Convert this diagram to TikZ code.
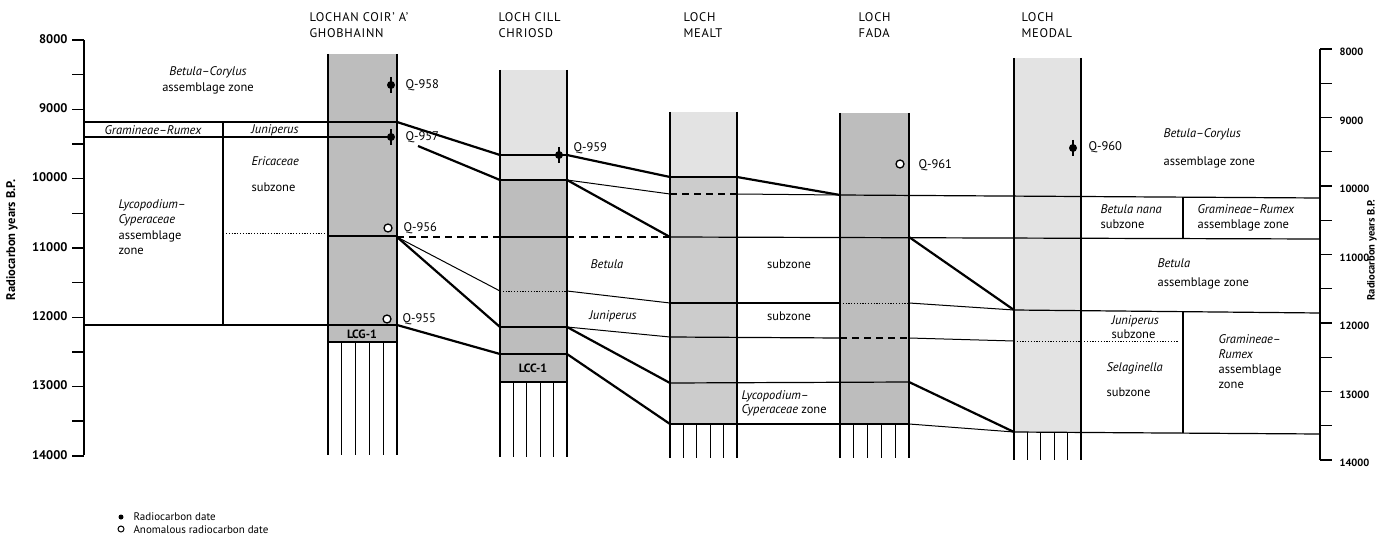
\documentclass[tikz,border=0pt]{standalone}
\usepackage{fontspec}
\setmainfont{PT Sans}
\usetikzlibrary{positioning}
\definecolor{coreDark}{gray}{0.74}
\definecolor{coreMid}{gray}{0.80}
\definecolor{coreLight}{gray}{0.89}
\tikzset{
  % pixel-like units, y running downwards
  every picture/.append style = {line width=1.1pt},
  axisline/.style  = {line width=1.4pt, black},
  zline/.style     = {line width=1.2pt},
  corr/.style      = {line width=2.2pt},
  corrthin/.style  = {line width=1.0pt},
  dashline/.style  = {line width=2pt, dash pattern=on 7pt off 5pt},
  dotline/.style   = {line width=0.9pt, dash pattern=on 1.2pt off 1.6pt},
  colside/.style   = {line width=1.5pt},
  hatchline/.style = {line width=1.2pt},
  datedot/.style   = {circle, fill=black, inner sep=0pt, minimum size=8pt},
  anomdot/.style   = {circle, draw=black, line width=1.3pt, fill=white, inner sep=0pt, minimum size=8pt},
  lbl/.style       = {font=\fontsize{12.5}{13}\selectfont\itshape, inner sep=0pt},
  slbl/.style      = {font=\fontsize{12.5}{13}\selectfont, inner sep=0pt},
  qlbl/.style      = {font=\fontsize{12.5}{13}\selectfont, anchor=west, inner sep=0pt},
  ttl/.style       = {font=\fontsize{12.5}{16.5}\selectfont\addfontfeatures{LetterSpace=6},
                      anchor=north west, align=left, inner sep=0pt},
  ticklbl/.style   = {font=\fontsize{12.5}{13}\selectfont\bfseries, inner sep=0pt},
  rticklbl/.style  = {font=\fontsize{10.5}{11}\selectfont\bfseries, inner sep=0pt},
}
% core column: sides and lower hatching
\newcommand{\corecol}[5]{%
  \draw[colside] (#1,#3) -- (#1,#5) (#2,#3) -- (#2,#5);
  \foreach \i in {1,...,4}
    \draw[hatchline] ({#1+\i*(#2-#1)/5},#4) -- ({#1+\i*(#2-#1)/5},#5);
}
\newcommand{\datemark}[2]{%
  \node[datedot] (#1) at (#2) {};
  \draw[line width=1.5pt] ([yshift=8pt]#1.center) -- ([yshift=-8pt]#1.center);
}

\begin{document}
\begin{tikzpicture}[x=1pt, y=-1pt]
  \useasboundingbox (0,0) rectangle (1380,540);
  % core fills
  \fill[coreDark]  (328,54) rectangle (397,342);
  \fill[coreLight] (500,70) rectangle (567,180);
  \fill[coreDark]  (500,180) rectangle (567,382);
  \fill[coreLight] (670,112) rectangle (737,177);
  \fill[coreMid]   (670,177) rectangle (737,424);
  \fill[coreDark]  (840,113) rectangle (909,424);
  \fill[coreLight] (1014,58) rectangle (1081,432);

  % left scale
  \draw[axisline] (84,40) -- (84,455);
  \foreach \k in {0,...,12}
    \draw[axisline] (72,{40+\k*34.65}) -- (84,{40+\k*34.65});
  \foreach \v [count=\i from 0] in {8000,9000,...,14000}
    \node[ticklbl, anchor=east] (yl\i) at (68,{39+\i*69.3}) {\v};
  \node[ticklbl] [rotate=90] (ylab) at (12,240) {Radiocarbon years B.P.};

  % right scale
  \draw[axisline] (1320,49) -- (1320,460);
  \foreach \k in {0,...,12}
    \draw[axisline] (1320,{49+\k*34.25}) -- (1332,{49+\k*34.25});
  \foreach \v [count=\i from 0] in {8000,9000,...,14000}
    \node[rticklbl, anchor=west] (yr\i) at (1339,{52+\i*68.5}) {\v};
  \node[rticklbl] [rotate=90] (ylabR) at (1372,250) {Radiocarbon years B.P.};

  % left zone scheme
  \draw[zline] (84,122) -- (397,122);
  \draw[zline] (84,137) -- (391,137);
  \draw[zline] (84,325) -- (397,325);
  \draw[zline] (223,122) -- (223,325);
  \draw[dotline] (226,233) -- (328,233);
  \draw[zline] (328,236) -- (397,236);
  \draw[zline] (328,342) -- (397,342);

  % columns
  \corecol{328}{397}{54}{342}{455}
  \corecol{500}{567}{70}{382}{457}
  \corecol{670}{737}{112}{424}{458}
  \corecol{840}{909}{113}{424}{458}
  \corecol{1014}{1081}{58}{432}{460}

  % levels inside the cores
  \foreach \y in {155,180,237,327,354,382}
    \draw[zline] (500,\y) -- (567,\y);
  \draw[dotline] (500,291) -- (567,291);
  \draw[zline] (670,177) -- (737,177);
  \draw[dashline, line width=1.2pt] (670,194) -- (737,194);
  \draw[zline] (670,237) -- (1320,239);
  \draw[zline] (670,303) -- (840,303);
  \draw[dotline] (840,303) -- (909,303);
  \draw[zline] (670,337) -- (840,338);
  \draw[dashline, line width=1.2pt] (840,338) -- (909,338);
  \draw[zline] (670,383) -- (909,382);
  \draw[zline] (670,424) -- (909,424);
  \draw[zline] (840,195) -- (1320,198);
  \draw[zline] (1014,310) -- (1320,313);
  \draw[dotline] (1014,341) -- (1178,341);
  \draw[zline] (1014,432) -- (1320,434);

  % correlation lines
  \draw[corr] (397,122) -- (500,155);
  \draw[corr] (418,146) -- (500,180);
  \draw[dashline] (397,237) -- (500,237);
  \draw[corrthin] (397,237) -- (500,291);
  \draw[corr] (397,237) -- (500,327);
  \draw[corr] (397,325) -- (500,354);
  \draw[corr] (567,155) -- (670,177);
  \draw[corrthin] (567,180) -- (670,194);
  \draw[corr] (567,180) -- (670,237);
  \draw[dashline] (567,237) -- (670,237);
  \draw[corrthin] (567,291) -- (670,303);
  \draw[corrthin] (567,327) -- (670,337);
  \draw[corr] (567,327) -- (670,383);
  \draw[corr] (567,354) -- (670,424);
  \draw[corr] (737,177) -- (840,195);
  \draw[corrthin] (737,194) -- (840,195);
  \draw[corr] (909,237) -- (1014,310);
  \draw[corrthin] (909,303) -- (1014,310);
  \draw[corrthin] (909,338) -- (1014,341);
  \draw[corr] (909,382) -- (1014,432);
  \draw[corrthin] (909,424) -- (1014,432);

  % right zone scheme dividers
  \draw[zline] (1183,197) -- (1183,239);
  \draw[zline] (1183,312) -- (1183,433);

  % site names
  \node[ttl] (t1) at (309,12) {LOCHAN COIR' A'\\GHOBHAINN};
  \node[ttl] (t2) at (498,12) {LOCH CILL\\CHRIOSD};
  \node[ttl] (t3) at (683,12) {LOCH\\MEALT};
  \node[ttl] (t4) at (858,12) {LOCH\\FADA};
  \node[ttl] (t5) at (1021,12) {LOCH\\MEODAL};

  % dates
  \datemark{q958}{391,85}
  \datemark{q957}{391,137}
  \datemark{q959}{559,155}
  \datemark{q960}{1073,148}
  \node[anomdot] (q956) at (388,228) {};
  \node[anomdot] (q955) at (387,319) {};
  \node[anomdot] (q961) at (900,164) {};
  \node[qlbl] (q958l) at (405,85) {Q-958};
  \node[qlbl] (q957l) at (405,137) {Q-957};
  \node[qlbl] (q956l) at (403,228) {Q-956};
  \node[qlbl] (q955l) at (402,319) {Q-955};
  \node[qlbl] (q959l) at (573,148) {Q-959};
  \node[qlbl] (q961l) at (918,165) {Q-961};
  \node[qlbl] (q960l) at (1088,147) {Q-960};
  \node[slbl, font=\fontsize{12}{12}\selectfont\bfseries] (lcg) at (362,334) {LCG-1};
  \node[slbl, font=\fontsize{12}{12}\selectfont\bfseries] (lcc) at (533,368) {LCC-1};

  % zone names, left
  \node[slbl, align=center] (bcL) at (208,80) {\textit{Betula--Corylus}\\[3pt]assemblage zone};
  \node[lbl] (grL) at (153,130) {Gramineae--Rumex};
  \node[lbl] (junL) at (275,130) {Juniperus};
  \node[slbl, align=left, anchor=west] (lcL) at (118,227)
    {\textit{Lycopodium--}\\[2.5pt]\textit{Cyperaceae}\\[2.5pt]assemblage\\[2.5pt]zone};
  \node[slbl, align=left, anchor=west] (ericL) at (251,174) {\textit{Ericaceae}\\[13pt]subzone};

  % zone names, middle
  \node[lbl] (betM) at (607,264) {Betula};
  \node[slbl] (subM1) at (789,264) {subzone};
  \node[lbl] (junM) at (613,316) {Juniperus};
  \node[slbl] (subM2) at (789,316) {subzone};
  \node[slbl, align=left, anchor=west] (lcM) at (741,403)
    {\textit{Lycopodium--}\\[1pt]\textit{Cyperaceae} zone};

  % zone names, right
  \node[slbl, align=left, anchor=west] (bcR) at (1163,148) {\textit{Betula--Corylus}\\[15pt]assemblage zone};
  \node[slbl, align=left, anchor=west] (bnR) at (1100,217) {\textit{Betula nana}\\[2pt]subzone};
  \node[slbl, align=left, anchor=west] (grR) at (1197,218) {\textit{Gramineae--Rumex}\\[2pt]assemblage zone};
  \node[slbl, align=left, anchor=west] (betR) at (1157,274) {\textit{Betula}\\[6pt]assemblage zone};
  \node[slbl, align=left, anchor=west] (junR) at (1111,327) {\textit{Juniperus}\\[1pt]subzone};
  \node[slbl, align=left, anchor=west] (selR) at (1106,380) {\textit{Selaginella}\\[12pt]subzone};
  \node[slbl, align=left, anchor=west] (grR2) at (1218,362)
    {\textit{Gramineae--}\\[2pt]\textit{Rumex}\\[2pt]assemblage\\[2pt]zone};

  % key
  \node[datedot, minimum size=5pt] (kd1) at (121,517) {};
  \node[anomdot, minimum size=6pt, line width=1pt] (kd2) at (121,529) {};
  \node[slbl, anchor=west, font=\fontsize{11}{11}\selectfont] (kt1) at (133,517) {Radiocarbon date};
  \node[slbl, anchor=west, font=\fontsize{11}{11}\selectfont] (kt2) at (133,530) {Anomalous radiocarbon date};
\end{tikzpicture}
\end{document}
